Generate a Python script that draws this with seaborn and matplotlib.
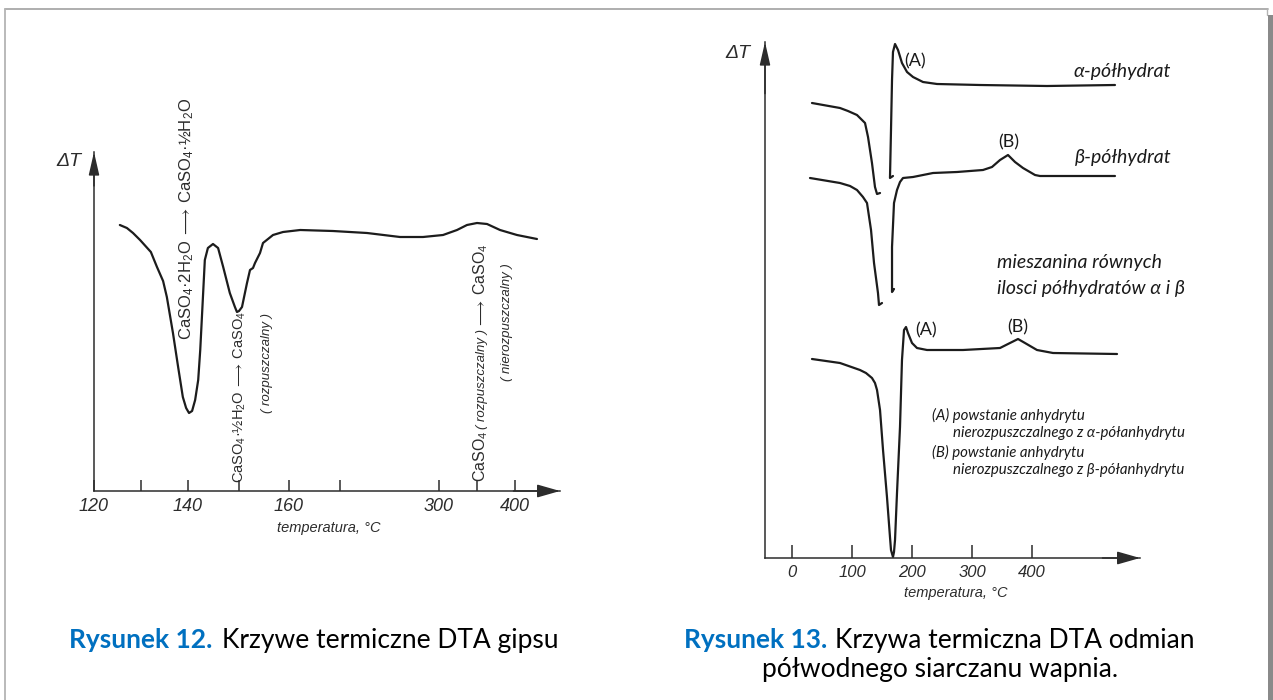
import numpy as np
import matplotlib
matplotlib.use("Agg")
import matplotlib.pyplot as plt
import seaborn as sns
from matplotlib.lines import Line2D
from matplotlib.patches import Rectangle

# ------------------------------------------------------------------ data
# Rysunek 12 - DTA curve of gypsum (temperature in degC, delta T in arbitrary units)
gyps_temp = [125.5, 127.0, 128.3, 129.8, 132.1, 133.4, 134.7, 135.5, 136.8, 137.9,
             138.9, 139.6, 140.2, 140.8, 141.4, 142.0, 142.4, 142.7, 142.9, 143.3,
             143.9, 144.9, 145.9, 146.9, 148.2, 149.2, 149.6, 150.0, 150.6, 151.6,
             152.2, 152.8, 153.2, 154.2, 154.8, 156.8, 158.8, 162.2, 168.6, 205.5,
             248.8, 279.0, 305.3, 323.7, 336.8, 350.0, 363.2, 380.3, 402.6, 428.9]
gyps_dT = [26.6, 26.3, 25.8, 25.1, 23.9, 22.4, 21.0, 19.4, 15.8, 12.4,
           9.4, 8.3, 7.8, 8.0, 9.1, 11.1, 14.1, 17.1, 19.1, 23.1,
           24.3, 24.7, 24.3, 22.4, 19.8, 18.4, 17.9, 18.0, 18.4, 20.8,
           22.1, 22.3, 22.8, 23.8, 24.8, 25.6, 25.9, 26.1, 26.0, 25.8,
           25.4, 25.4, 25.6, 26.1, 26.6, 26.8, 26.7, 26.1, 25.6, 25.2]
gyps_ticks = [120, 130, 140, 150, 160, 170, 300, 350, 400]
gyps_tick_labels = ["120", "", "140", "", "160", "", "300", "", "400"]

# Rysunek 13 - alpha hemihydrate (two pen strokes)
alpha_temp_1 = [33.3, 80.0, 93.3, 108.3, 121.7, 126.7, 133.3, 138.3, 141.7, 146.7]
alpha_dT_1 = [45.5, 45.0, 44.7, 44.3, 43.5, 42.1, 39.5, 37.1, 36.4, 36.5]
alpha_temp_2 = [168.3, 163.3, 165.0, 166.7, 168.3, 171.7, 176.7, 183.3, 191.7, 201.7,
                218.3, 241.7, 313.3, 425.0, 538.3]
alpha_dT_2 = [38.2, 38.0, 42.8, 47.8, 50.6, 51.4, 50.8, 49.5, 48.6, 48.1,
              47.6, 47.4, 47.3, 47.2, 47.3]
# beta hemihydrate (two pen strokes)
beta_temp_1 = [30.0, 80.0, 96.7, 108.3, 118.3, 125.0, 131.7, 136.7, 143.3, 145.0, 150.0]
beta_dT_1 = [38.0, 37.5, 37.2, 36.8, 36.1, 35.5, 32.8, 29.5, 26.5, 25.3, 25.5]
beta_temp_2 = [170.0, 166.7, 166.7, 170.0, 175.0, 180.0, 185.0, 201.7, 235.0, 275.0,
               318.3, 333.3, 346.7, 360.0, 371.7, 385.0, 405.0, 413.3, 538.3]
beta_dT_2 = [26.9, 26.6, 31.1, 35.5, 36.8, 37.6, 38.0, 38.1, 38.5, 38.6,
             38.8, 39.1, 39.8, 40.3, 39.6, 39.0, 38.3, 38.2, 38.2]
# mixture of equal amounts of alpha and beta
mix_temp = [33.3, 80.0, 113.3, 123.3, 133.3, 138.3, 141.7, 146.7, 151.7, 158.3,
            163.3, 165.0, 168.3, 170.0, 171.7, 175.0, 180.0, 183.3, 186.7, 190.0,
            193.3, 200.0, 208.3, 225.0, 285.0, 346.7, 363.3, 376.7, 388.3, 408.3,
            435.0, 541.7]
mix_dT = [19.9, 19.5, 18.8, 18.5, 18.0, 17.5, 16.8, 14.8, 10.8, 6.1,
          2.1, 0.8, 0.1, 0.6, 1.8, 6.5, 13.1, 19.8, 22.8, 23.1,
          22.5, 21.5, 21.0, 20.8, 20.8, 21.0, 21.5, 21.9, 21.5, 20.8,
          20.5, 20.4]
hemi_ticks = [0, 100, 200, 300, 400]
hemi_tick_labels = ["0", "100", "200", "300", "400"]

# ------------------------------------------------------------------ layout / style
W, H = 1273, 700
INK = "#1c1c1c"
AX_INK = "#2c2c2c"
TECH = ["Liberation Sans", "DejaVu Sans"]
DOC = ["Lato", "DejaVu Sans"]
LEFT_SCALE_T = [100, 120, 130, 140, 150, 160, 170, 300, 400, 500]
LEFT_SCALE_P = [0, 94, 141, 188, 239, 289, 340, 439, 515, 591]

sns.set_theme(style="white")
plt.rcParams["font.family"] = TECH
plt.rcParams["axes.facecolor"] = "none"
plt.rcParams["mathtext.fontset"] = "dejavusans"
plt.rcParams["mathtext.default"] = "regular"

fig = plt.figure(figsize=(W / 100, H / 100), dpi=100)
fig.patch.set_facecolor("white")


def box(x0, y0, x1, y1):
    return [x0 / W, 1 - y1 / H, (x1 - x0) / W, (y1 - y0) / H]


def ftext(x, y, s, **kw):
    return fig.text(x / W, 1 - y / H, s, **kw)


def style_axes(ax, ticks, labels, tick_len, label_size):
    for side in ("top", "right"):
        ax.spines[side].set_visible(False)
    for side in ("left", "bottom"):
        ax.spines[side].set_color(AX_INK)
        ax.spines[side].set_linewidth(1.1)
    ax.set_yticks([])
    ax.set_xticks(ticks, labels, fontfamily=TECH, fontstyle="italic",
                  fontsize=label_size, color=AX_INK)
    ax.tick_params(axis="x", direction="in", length=tick_len, width=1.1,
                   color=AX_INK, pad=5, bottom=True)
    ax.grid(False)
    ax.set_xlabel("")
    ax.set_ylabel("")
    # axis arrows
    ax.annotate("", xy=(0, 1.0), xytext=(0, 0.9), xycoords="axes fraction",
                arrowprops=dict(arrowstyle="-|>,head_length=0.7,head_width=0.16",
                                mutation_scale=20, color=AX_INK, lw=1.1,
                                shrinkA=0, shrinkB=0))
    ax.annotate("", xy=(1.0, 0), xytext=(0.9, 0), xycoords="axes fraction",
                arrowprops=dict(arrowstyle="-|>,head_length=0.7,head_width=0.2",
                                mutation_scale=20, color=AX_INK, lw=1.1,
                                shrinkA=0, shrinkB=0))


def line(ax, x, y):
    sns.lineplot(x=x, y=y, ax=ax, sort=False, estimator=None, color=INK,
                 linewidth=1.6, legend=False)


# ---------------- left chart (Rysunek 12)
axL = fig.add_axes(box(94, 152, 560, 491))
fwd = lambda t: np.interp(t, LEFT_SCALE_T, LEFT_SCALE_P)
inv = lambda p: np.interp(p, LEFT_SCALE_P, LEFT_SCALE_T)
axL.set_xscale("function", functions=(fwd, inv))
line(axL, gyps_temp, gyps_dT)
axL.set_xlim(120, float(inv(560)))
axL.set_ylim(0, 33.9)
style_axes(axL, gyps_ticks, gyps_tick_labels, 8, 13)

ftext(69, 161, "ΔT", ha="center", va="center", fontsize=14, fontstyle="italic",
      family=TECH, color=AX_INK)
ftext(329, 528, "temperatura, °C", ha="center", va="center", fontsize=10.5,
      fontstyle="italic", family=TECH, color=AX_INK)

chem = dict(rotation=90, family=TECH, color=AX_INK, ha="center")
ital = dict(rotation=90, fontsize=9.5, family=TECH, fontstyle="italic",
            color=AX_INK, ha="center")
ftext(187, 340, r"CaSO$_4$·2H$_2$O$\,\longrightarrow\,$CaSO$_4$·½H$_2$O",
      va="bottom", fontsize=12, **chem)
ftext(239, 483, r"CaSO$_4$·½H$_2$O$\,\longrightarrow\,$CaSO$_4$",
      va="bottom", fontsize=10.5, **chem)
ftext(267, 313, "( rozpuszczalny )", va="top", **ital)
ftext(481, 482, r"CaSO$_4$", va="bottom", fontsize=11.5, **chem)
ftext(482, 429, "( rozpuszczalny )", va="bottom", **ital)
ftext(481, 329, r"$\longrightarrow$", va="bottom", fontsize=11.5, **chem)
ftext(481, 243, r"CaSO$_4$", va="top", fontsize=11.5, **chem)
ftext(507, 263, "( nierozpuszczalny )", va="top", **ital)

# ---------------- right chart (Rysunek 13)
axR = fig.add_axes(box(765, 42, 1140, 558))
line(axR, alpha_temp_1, alpha_dT_1)
line(axR, alpha_temp_2, alpha_dT_2)
line(axR, beta_temp_1, beta_dT_1)
line(axR, beta_temp_2, beta_dT_2)
line(axR, mix_temp, mix_dT)
axR.set_xlim(-45, 580)
axR.set_ylim(0, 51.6)
style_axes(axR, hemi_ticks, hemi_tick_labels, 9.5, 12)

ftext(738, 53, "ΔT", ha="center", va="center", fontsize=14, fontstyle="italic",
      family=TECH, color=AX_INK)
ftext(956, 593, "temperatura, °C", ha="center", va="center", fontsize=10.5,
      fontstyle="italic", family=TECH, color=AX_INK)

lab = dict(family=DOC, color="#1a1a1a", va="center")
ftext(915, 61, "(A)", ha="center", fontsize=13, **lab)
ftext(1073, 71, "α-półhydrat", ha="left", fontsize=14, fontstyle="italic", **lab)
ftext(1009, 142, "(B)", ha="center", fontsize=13, **lab)
ftext(1075, 157, "β-półhydrat", ha="left", fontsize=14, fontstyle="italic", **lab)
ftext(997, 263, "mieszanina równych", ha="left", fontsize=14, fontstyle="italic", **lab)
ftext(997, 289, "ilosci półhydratów α i β", ha="left", fontsize=14,
      fontstyle="italic", **lab)
ftext(926, 330, "(A)", ha="center", fontsize=13, **lab)
ftext(1018, 327, "(B)", ha="center", fontsize=13, **lab)
notes = dict(fontsize=10.8, fontstyle="italic", ha="left", **lab)
ftext(932, 415, "(A) powstanie anhydrytu", **notes)
ftext(953, 433, "nierozpuszczalnego z α-półanhydrytu", **notes)
ftext(932, 452, "(B) powstanie anhydrytu", **notes)
ftext(953, 470, "nierozpuszczalnego z β-półanhydrytu", **notes)

# ---------------- captions
cap = dict(family=DOC, fontsize=19, va="baseline")
ftext(212, 648, "Rysunek 12.", ha="right", color="#0070C0", fontweight="bold", **cap)
ftext(222, 648, "Krzywe termiczne DTA gipsu", ha="left", color="black", **cap)
ftext(827, 648, "Rysunek 13.", ha="right", color="#0070C0", fontweight="bold", **cap)
ftext(835, 648, "Krzywa termiczna DTA odmian", ha="left", color="black", **cap)
ftext(940, 677, "półwodnego siarczanu wapnia.", ha="center", color="black", **cap)

# ---------------- page frame
fig.add_artist(Line2D([5 / W, 1268 / W], [1 - 9 / H, 1 - 9 / H], color="#a8a8a8", lw=1.3))
fig.add_artist(Line2D([5 / W, 5 / W], [1 - 9 / H, 0], color="#b4b4b4", lw=1.3))
fig.add_artist(Line2D([1267 / W, 1267 / W], [1 - 9 / H, 1 - 15 / H], color="#b4b4b4", lw=1.0))
fig.add_artist(Rectangle((1268 / W, 0), 5 / W, 1 - 15 / H, color="#8a8a8a", lw=0))

fig.savefig("out.png", dpi=100, facecolor="white")
